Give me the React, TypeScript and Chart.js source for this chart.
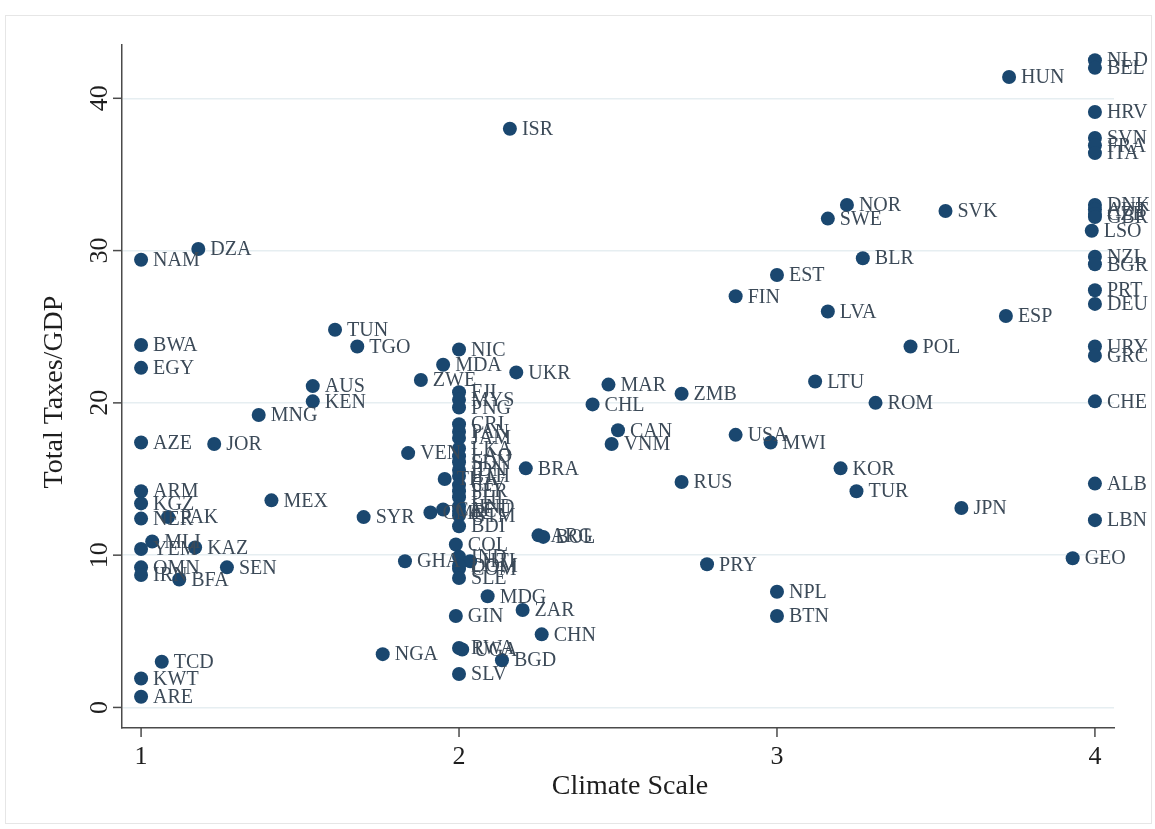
import React, { useEffect, useRef } from "react";
import { Chart, registerables } from "chart.js";

Chart.register(...registerables);

// ---- data ----
const countries = [
  "NAM", "DZA", "BWA", "EGY", "AZE", "JOR", "MNG", "AUS", "KEN", "TUN", "TGO",
  "ARM", "KGZ", "NER", "PAK", "MLI", "YEM", "KAZ", "OMN", "IRN", "BFA", "SEN",
  "MEX", "SYR", "TCD", "KWT", "ARE", "NGA",
  "NIC", "MDA", "UKR", "ZWE", "VEN", "BRA",
  "FJI", "MYS", "PNG", "CRI", "PAN", "JAM", "LKA", "LAO", "IDN", "ETH", "THA",
  "CIV", "PER", "PHL", "HND", "ECU", "GTM", "BDI", "CMR", "CAF", "SDN",
  "ARG", "BOL", "COL", "GHA", "IND", "HTI", "COM", "DOM", "SLE", "MDG", "GIN",
  "ZAR", "CHN", "RWA", "UGA", "BGD", "SLV",
  "ISR", "MAR", "CHL", "CAN", "VNM", "ZMB", "RUS", "PRY", "FIN", "USA", "MWI",
  "EST", "NPL", "BTN", "LTU", "LVA", "SWE", "NOR", "KOR", "TUR", "BLR", "ROM",
  "POL", "SVK", "JPN", "ESP", "HUN", "GEO", "LSO",
  "NLD", "BEL", "HRV", "SVN", "FRA", "ITA", "DNK", "AUT", "CZE", "GBR", "NZL",
  "BGR", "PRT", "DEU", "URY", "GRC", "CHE", "ALB", "LBN",
];

const climateScale = [
  1.0, 1.18, 1.0, 1.0, 1.0, 1.23, 1.37, 1.54, 1.54, 1.61, 1.68,
  1.0, 1.0, 1.0, 1.085, 1.035, 1.0, 1.17, 1.0, 1.0, 1.12, 1.27,
  1.41, 1.7, 1.065, 1.0, 1.0, 1.76,
  2.0, 1.95, 2.18, 1.88, 1.84, 2.21,
  2.0, 2.0, 2.0, 2.0, 2.0, 2.0, 2.0, 2.0, 2.0, 2.0, 1.955,
  2.0, 2.0, 2.0, 2.0, 2.0, 2.0, 2.0, 1.91, 1.95, 2.0,
  2.25, 2.265, 1.99, 1.83, 2.0, 2.035, 2.0, 2.0, 2.0, 2.09, 1.99,
  2.2, 2.26, 2.0, 2.01, 2.135, 2.0,
  2.16, 2.47, 2.42, 2.5, 2.48, 2.7, 2.7, 2.78, 2.87, 2.87, 2.98,
  3.0, 3.0, 3.0, 3.12, 3.16, 3.16, 3.22, 3.2, 3.25, 3.27, 3.31,
  3.42, 3.53, 3.58, 3.72, 3.73, 3.93, 3.99,
  4.0, 4.0, 4.0, 4.0, 4.0, 4.0, 4.0, 4.0, 4.0, 4.0, 4.0,
  4.0, 4.0, 4.0, 4.0, 4.0, 4.0, 4.0, 4.0,
];

const totalTaxes = [
  29.4, 30.1, 23.8, 22.3, 17.4, 17.3, 19.2, 21.1, 20.1, 24.8, 23.7,
  14.2, 13.4, 12.4, 12.5, 10.9, 10.4, 10.5, 9.2, 8.7, 8.4, 9.2,
  13.6, 12.5, 3.0, 1.9, 0.7, 3.5,
  23.5, 22.5, 22.0, 21.5, 16.7, 15.7,
  20.7, 20.2, 19.7, 18.6, 18.1, 17.7, 17.0, 16.5, 15.6, 15.2, 15.0,
  14.6, 14.2, 13.8, 13.2, 12.9, 12.6, 11.9, 12.8, 13.0, 16.1,
  11.3, 11.2, 10.7, 9.6, 9.9, 9.6, 9.1, 9.3, 8.5, 7.3, 6.0,
  6.4, 4.8, 3.9, 3.8, 3.1, 2.2,
  38.0, 21.2, 19.9, 18.2, 17.3, 20.6, 14.8, 9.4, 27.0, 17.9, 17.4,
  28.4, 7.6, 6.0, 21.4, 26.0, 32.1, 33.0, 15.7, 14.2, 29.5, 20.0,
  23.7, 32.6, 13.1, 25.7, 41.4, 9.8, 31.3,
  42.5, 42.0, 39.1, 37.4, 36.9, 36.4, 33.0, 32.7, 32.4, 32.2, 29.6,
  29.1, 27.4, 26.5, 23.7, 23.1, 20.1, 14.7, 12.3,
];

const xTickValues = [1, 2, 3, 4];
const yTickValues = [0, 10, 20, 30, 40];
const xTitle = "Climate Scale";
const yTitle = "Total Taxes/GDP";

const SERIF = "'Liberation Serif', 'DejaVu Serif', serif";
const MARKER = "#1a476f";
const LABEL = "#3c4a58";
const AXIS = "#4a4a4a";

const decorPlugin = {
  id: "decor",
  afterDatasetsDraw(chart: any) {
    const ctx = chart.ctx;
    const meta = chart.getDatasetMeta(0);
    ctx.save();
    ctx.font = `20px ${SERIF}`;
    ctx.fillStyle = LABEL;
    ctx.textAlign = "left";
    ctx.textBaseline = "middle";
    meta.data.forEach((el: any, i: number) => {
      ctx.fillText(countries[i], el.x + 12, el.y + 1);
    });
    ctx.restore();
  },
  afterDraw(chart: any) {
    const ctx = chart.ctx;
    const xs = chart.scales.x;
    const ys = chart.scales.y;
    const area = chart.chartArea;
    ctx.save();
    // outer faint frame
    ctx.strokeStyle = "#e6e6e6";
    ctx.lineWidth = 1;
    ctx.strokeRect(5.5, 15.5, 1146, 808);

    ctx.strokeStyle = AXIS;
    ctx.lineWidth = 1.5;
    ctx.fillStyle = "#1e1e1e";
    ctx.font = `26px ${SERIF}`;
    // x ticks
    xTickValues.forEach((v) => {
      const px = xs.getPixelForValue(v);
      ctx.beginPath();
      ctx.moveTo(px, area.bottom);
      ctx.lineTo(px, area.bottom + 9);
      ctx.stroke();
      ctx.textAlign = "center";
      ctx.textBaseline = "middle";
      ctx.fillText(String(v), px, area.bottom + 29);
    });
    // y ticks (rotated labels)
    yTickValues.forEach((v) => {
      const py = ys.getPixelForValue(v);
      ctx.beginPath();
      ctx.moveTo(area.left - 9, py);
      ctx.lineTo(area.left, py);
      ctx.stroke();
      ctx.save();
      ctx.translate(area.left - 22, py);
      ctx.rotate(-Math.PI / 2);
      ctx.textAlign = "center";
      ctx.textBaseline = "middle";
      ctx.fillText(String(v), 0, 0);
      ctx.restore();
    });
    // titles
    ctx.font = `28px ${SERIF}`;
    ctx.textAlign = "center";
    ctx.textBaseline = "middle";
    ctx.fillText(xTitle, 630, 787);
    ctx.save();
    ctx.translate(55, 392);
    ctx.rotate(-Math.PI / 2);
    ctx.fillText(yTitle, 0, 0);
    ctx.restore();
    ctx.restore();
  },
};

export default function App() {
  const ref = useRef<HTMLCanvasElement | null>(null);
  useEffect(() => {
    if (!ref.current) return;
    const points = climateScale.map((x, i) => ({ x, y: totalTaxes[i] }));
    const chart = new Chart(ref.current, {
      type: "scatter",
      data: {
        datasets: [
          {
            data: points,
            backgroundColor: MARKER,
            borderColor: MARKER,
            borderWidth: 0,
            pointRadius: 7,
            pointHoverRadius: 7,
          },
        ],
      },
      options: {
        responsive: false,
        animation: false,
        events: [],
        layout: { padding: { left: 122, top: 45, right: 41, bottom: 101 } },
        plugins: { legend: { display: false }, tooltip: { enabled: false } },
        scales: {
          x: {
            type: "linear",
            min: 0.94,
            max: 4.06,
            ticks: { display: false },
            grid: { display: false, drawTicks: false },
            border: { display: true, color: AXIS, width: 1.5 },
            afterBuildTicks: (s: any) => {
              s.ticks = xTickValues.map((v) => ({ value: v }));
            },
          },
          y: {
            type: "linear",
            min: -1.35,
            max: 43.5,
            ticks: { display: false },
            grid: { display: true, color: "#e6eef1", lineWidth: 1.5, drawTicks: false },
            border: { display: true, color: AXIS, width: 1.5 },
            afterBuildTicks: (s: any) => {
              s.ticks = yTickValues.map((v) => ({ value: v }));
            },
          },
        },
      },
      plugins: [decorPlugin],
    });
    return () => chart.destroy();
  }, []);
  return (
    <div style={{ position: "fixed", left: 0, top: 0, width: 1155, height: 829, background: "#fff" }}>
      <canvas ref={ref} width={1155} height={829} style={{ display: "block" }} />
    </div>
  );
}
